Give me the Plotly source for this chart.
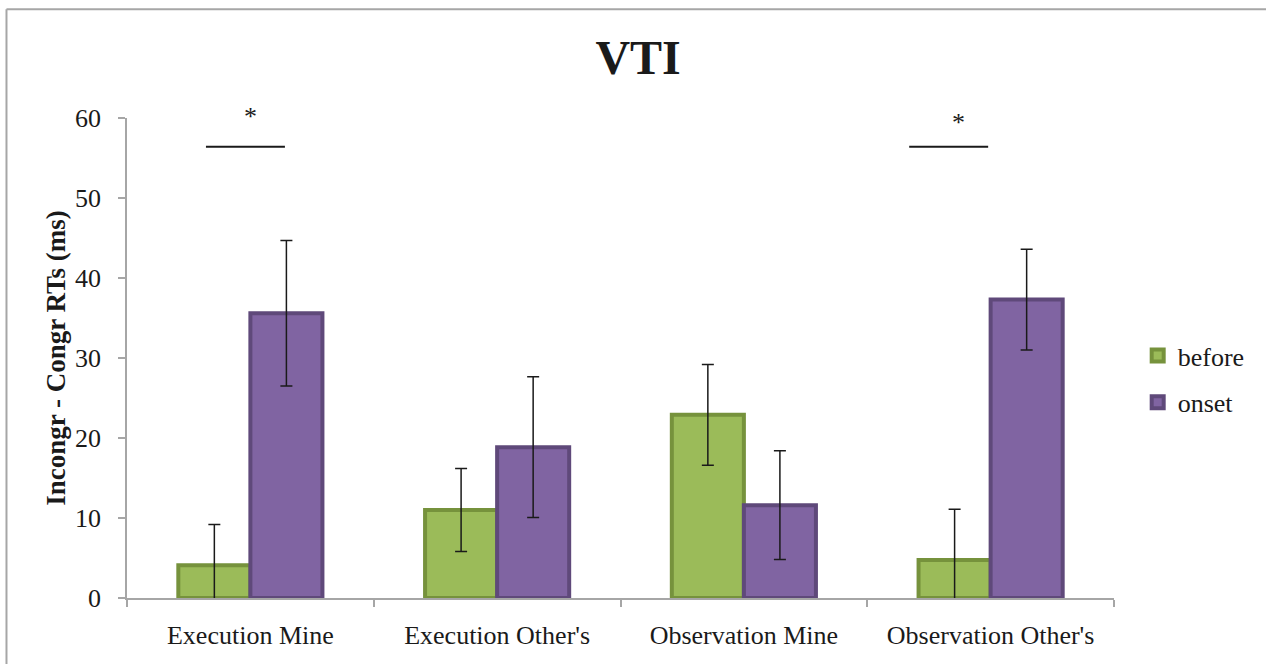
import plotly.graph_objects as go

categories = ["Execution Mine", "Execution Other's", "Observation Mine", "Observation Other's"]
before_vals = [4.1, 11.0, 22.9, 4.75]
before_err = [5.1, 5.2, 6.3, 6.35]
onset_vals = [35.6, 18.85, 11.6, 37.3]
onset_err = [9.1, 8.8, 6.8, 6.3]
y_ticks = [0, 10, 20, 30, 40, 50, 60]

# significance markers: (x0, x1, line y, star x, star y in paper units)
sig_lines = [(-0.18, 0.14, 56.4, 0.0, 1.004), (2.67, 2.99, 56.4, 2.87, 0.9896)]

FONT = "Liberation Serif, Times New Roman, serif"

fig = go.Figure()
fig.add_trace(go.Bar(
    name="before", x=categories, y=before_vals,
    marker=dict(color="#9BBB59", line=dict(color="#76923C", width=4)),
    error_y=dict(type="data", array=before_err, color="#1a1a1a", thickness=1.5, width=6),
    legendgroup="a",
))
fig.add_trace(go.Bar(
    name="onset", x=categories, y=onset_vals,
    marker=dict(color="#8064A2", line=dict(color="#5F497A", width=4)),
    error_y=dict(type="data", array=onset_err, color="#1a1a1a", thickness=1.5, width=6),
    legendgroup="b",
))

shapes = []
annotations = []
for x0, x1, ly, sx, sy in sig_lines:
    shapes.append(dict(type="line", xref="x", yref="y", x0=x0, x1=x1, y0=ly, y1=ly,
                       line=dict(color="#1a1a1a", width=2)))
    annotations.append(dict(x=sx, y=sy, xref="x", yref="paper", text="*", showarrow=False,
                            font=dict(family=FONT, size=26, color="#1a1a1a"), yanchor="middle"))

# outer frame lines (left and top)
shapes.append(dict(type="line", xref="paper", yref="paper", x0=-0.1221, x1=-0.1221, y0=-0.15, y1=1.2268,
                   line=dict(color="#a6a6a6", width=2)))
shapes.append(dict(type="line", xref="paper", yref="paper", x0=-0.1221, x1=1.2, y0=1.2268, y1=1.2268,
                   line=dict(color="#a6a6a6", width=2)))

fig.update_layout(
    width=1266, height=664,
    margin=dict(l=127, r=152, t=118, b=66),
    paper_bgcolor="white", plot_bgcolor="white",
    barmode="group", bargap=0.416, bargroupgap=0,
    title=dict(text="<b>VTI</b>", x=0.504, xref="container", xanchor="center",
               y=1 - 57 / 664, yref="container", yanchor="middle",
               font=dict(family=FONT, size=48, color="#1a1a1a")),
    font=dict(family=FONT, color="#1a1a1a"),
    legend=dict(x=1.024, y=0.456, xanchor="left", yanchor="middle",
                font=dict(family=FONT, size=26, color="#1a1a1a"), tracegroupgap=10,
                bgcolor="rgba(0,0,0,0)"),
    shapes=shapes, annotations=annotations,
)
fig.update_xaxes(
    showline=True, linecolor="#a6a6a6", linewidth=1.5,
    ticks="outside", tickson="boundaries", ticklen=7, tickcolor="#a6a6a6", tickwidth=1.5,
    ticklabelstandoff=13,
    tickfont=dict(family=FONT, size=26, color="#1a1a1a"), showgrid=False,
)
fig.update_yaxes(
    range=[0, 60], tickvals=y_ticks, showline=True, linecolor="#a6a6a6", linewidth=1.5,
    ticks="outside", ticklen=7, tickcolor="#a6a6a6", tickwidth=1.5,
    ticklabelstandoff=12,
    tickfont=dict(family=FONT, size=26, color="#1a1a1a"), showgrid=False, zeroline=False,
    title=dict(text="<b>Incongr - Congr RTs (ms)</b>", font=dict(family=FONT, size=27, color="#1a1a1a"), standoff=2),
)

fig.write_html("out.html", config={"displayModeBar": False},
               post_script="document.body.style.margin='0';")
